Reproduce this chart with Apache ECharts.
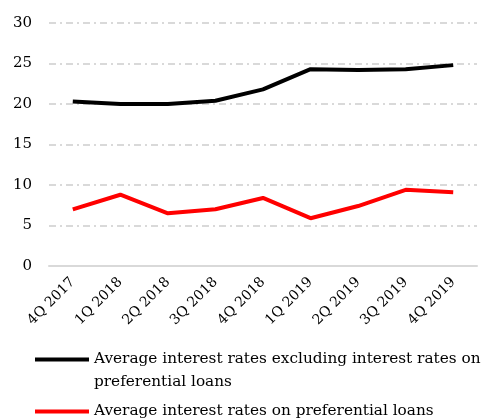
<!DOCTYPE html>
<html>
<head>
    <meta charset="utf-8">
    <title>Average interest rates</title>
    <script src="https://cdn.jsdelivr.net/npm/echarts@6/dist/echarts.min.js"></script>
    <style>
        html, body { margin: 0; padding: 0; background: #fff; }
    </style>
</head>
<body>
<div id="main" style="width: 486px;height:418px;"></div>
<script type="text/javascript">
    // quarters on the x axis
    var quarters = ['4Q 2017', '1Q 2018', '2Q 2018', '3Q 2018', '4Q 2018', '1Q 2019', '2Q 2019', '3Q 2019', '4Q 2019'];
    // average rates excluding preferential loans (black)
    var ratesExcl = [20.3, 20.0, 20.0, 20.4, 21.8, 24.3, 24.2, 24.3, 24.8];
    // average rates on preferential loans (red)
    var ratesPref = [7.0, 8.8, 6.5, 7.0, 8.4, 5.9, 7.4, 9.4, 9.1];
    var yTicks = {min: 0, max: 30, interval: 5};

    var nameExcl = 'Average interest rates excluding interest rates on preferential loans';
    var namePref = 'Average interest rates on preferential loans';

    var font = 'DejaVu Serif';
    var myChart = echarts.init(document.getElementById('main'));

    var legendText = {fontFamily: font, fontSize: 15.3, color: '#000', lineHeight: 23};

    var option = {
        animation: false,
        grid: {left: 49, right: 9, top: 23, bottom: 152, containLabel: false},
        xAxis: {
            type: 'category',
            data: quarters,
            boundaryGap: true,
            axisLine: {show: true, lineStyle: {color: '#d9d9d9', width: 2}},
            axisTick: {show: false},
            axisLabel: {
                rotate: 45,
                margin: 14,
                interval: 0,
                fontFamily: font,
                fontSize: 14,
                color: '#000'
            }
        },
        yAxis: {
            type: 'value',
            min: yTicks.min,
            max: yTicks.max,
            interval: yTicks.interval,
            axisLine: {show: false},
            axisTick: {show: false},
            axisLabel: {margin: 17, fontFamily: font, fontSize: 15, color: '#000'},
            splitLine: {
                lineStyle: {color: '#d9d9d9', width: 2, type: [7, 4, 2, 4]}
            }
        },
        legend: [
            {
                left: 35,
                top: 325,
                padding: 0,
                itemWidth: 54,
                itemHeight: 4,
                icon: 'rect',
                selectedMode: false,
                data: [nameExcl],
                // blank line on top keeps the icon level with the first text line
                formatter: function (name) {
                    return ' \nAverage interest rates excluding interest rates on\npreferential loans';
                },
                textStyle: legendText
            },
            {
                left: 35,
                top: 400,
                padding: 0,
                itemWidth: 54,
                itemHeight: 4,
                icon: 'rect',
                selectedMode: false,
                data: [namePref],
                textStyle: legendText
            }
        ],
        series: [
            {
                name: nameExcl,
                type: 'line',
                data: ratesExcl,
                symbol: 'none',
                lineStyle: {color: '#000', width: 4},
                itemStyle: {color: '#000'}
            },
            {
                name: namePref,
                type: 'line',
                data: ratesPref,
                symbol: 'none',
                lineStyle: {color: '#ff0000', width: 4},
                itemStyle: {color: '#ff0000'}
            }
        ]
    };

    myChart.setOption(option);
</script>
</body>
</html>
